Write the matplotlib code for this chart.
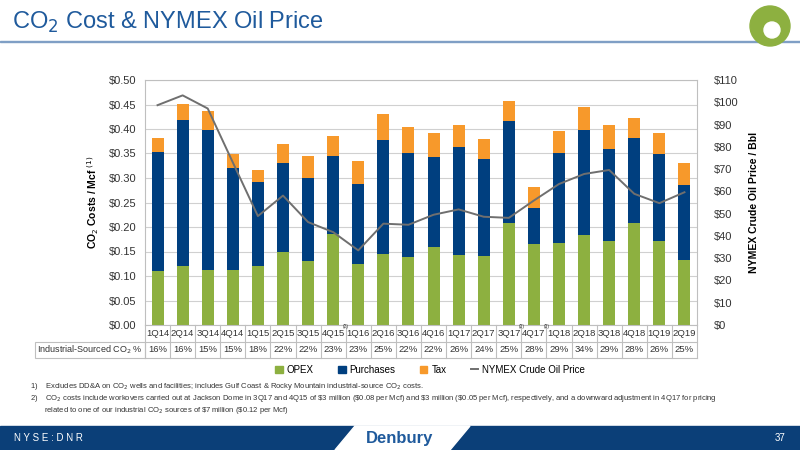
import matplotlib.pyplot as plt
from matplotlib.patches import Rectangle, Ellipse, Polygon
from matplotlib.lines import Line2D

plt.rcParams['font.family'] = ['Liberation Sans', 'DejaVu Sans']

quarters = ['1Q14', '2Q14', '3Q14', '4Q14', '1Q15', '2Q15', '3Q15', '4Q15', '1Q16', '2Q16', '3Q16',
            '4Q16', '1Q17', '2Q17', '3Q17', '4Q17', '1Q18', '2Q18', '3Q18', '4Q18', '1Q19', '2Q19']
opex = [0.110, 0.120, 0.113, 0.113, 0.120, 0.148, 0.131, 0.185, 0.124, 0.144, 0.138,
        0.159, 0.142, 0.140, 0.209, 0.166, 0.167, 0.183, 0.171, 0.209, 0.171, 0.132]
purch_top = [0.354, 0.419, 0.397, 0.320, 0.291, 0.331, 0.299, 0.345, 0.287, 0.377, 0.352,
             0.343, 0.364, 0.339, 0.416, 0.238, 0.352, 0.398, 0.360, 0.381, 0.349, 0.285]
total = [0.381, 0.451, 0.437, 0.350, 0.316, 0.369, 0.344, 0.385, 0.334, 0.430, 0.405,
         0.392, 0.409, 0.380, 0.457, 0.281, 0.395, 0.445, 0.408, 0.423, 0.391, 0.330]
oil = [98.7, 103.1, 97.2, 73.0, 48.9, 58.1, 46.2, 41.7, 33.5, 45.5, 45.0,
       49.5, 51.9, 48.6, 48.1, 55.9, 63.3, 67.8, 69.6, 58.9, 54.7, 59.6]
industrial_pct = ['16%', '16%', '15%', '15%', '18%', '22%', '22%', '23%', '23%', '25%', '22%',
                  '22%', '26%', '24%', '25%', '28%', '29%', '34%', '29%', '28%', '26%', '25%']
flagged = ['4Q15', '3Q17', '4Q17']

purchases = [p - o for p, o in zip(purch_top, opex)]
tax = [t - p for t, p in zip(total, purch_top)]

GREEN, NAVY, ORANGE, LINE = '#8db040', '#003f7f', '#f7992b', '#6f6f6f'
BLUE = '#1f5a9c'

fig = plt.figure(figsize=(8, 4.5), dpi=100)
W, H = 800, 450
ax = fig.add_axes([145 / W, (H - 325) / H, 552 / W, 245 / H])
x = list(range(len(quarters)))
ax.bar(x, opex, 0.48, color=GREEN, zorder=2)
ax.bar(x, purchases, 0.48, bottom=opex, color=NAVY, zorder=2)
ax.bar(x, tax, 0.48, bottom=purch_top, color=ORANGE, zorder=2)
ax.set_xlim(-0.5, len(quarters) - 0.5)
ax.set_ylim(0, 0.5)
ax.set_yticks([i * 0.05 for i in range(11)])
ax.set_yticklabels(['$%.2f' % (i * 0.05) for i in range(11)], fontsize=8, color='#333333')
ax.grid(axis='y', color='#d0d0d0', lw=0.8, zorder=0)
ax.set_xticks([])
for s in ax.spines.values():
    s.set_color('#bfbfbf')
ax.tick_params(length=0, pad=6)
ax.set_ylabel('CO$_2$ Costs / Mcf $^{(1)}$', fontsize=7.5, weight='bold', labelpad=6)

ax2 = ax.twinx()
ax2.plot(x, oil, color=LINE, lw=1.4, zorder=3)
ax2.set_ylim(0, 110)
ax2.set_yticks(range(0, 111, 10))
ax2.set_yticklabels(['$%d' % v for v in range(0, 111, 10)], fontsize=8, color='#333333')
ax2.tick_params(length=0, pad=12)
for s in ax2.spines.values():
    s.set_visible(False)
ax2.set_ylabel('NYMEX Crude Oil Price / Bbl', fontsize=7.5, weight='bold', labelpad=8)

# table below axis
tr = ax.get_xaxis_transform()
r1, r2 = -0.068, -0.136
for i, q in enumerate(quarters):
    ax.text(i, r1 / 2, q, transform=tr, ha='center', va='center', fontsize=6.8, color='#333333')
    ax.text(i, (r1 + r2) / 2, industrial_pct[i], transform=tr, ha='center', va='center', fontsize=6.8, color='#333333')
    if q in flagged:
        ax.text(i + 0.5, -0.008, '(2)', transform=tr, ha='center', va='center', fontsize=3.5, color='#333333')
for i in range(len(quarters) + 1):
    ax.add_line(Line2D([i - 0.5, i - 0.5], [0, r2], transform=tr, color='#bfbfbf', lw=0.8, clip_on=False))
for yy in (r1, r2):
    ax.add_line(Line2D([-0.5, len(quarters) - 0.5], [yy, yy], transform=tr, color='#bfbfbf', lw=0.8, clip_on=False))
fig.patches.append(Rectangle((35 / W, (H - 358) / H), 110 / W, 16.5 / H, transform=fig.transFigure,
                             fill=False, ec='#bfbfbf', lw=0.8))
fig.text(90 / W, (H - 349.5) / H, 'Industrial-Sourced CO$_2$ %', ha='center', va='center', fontsize=6.5, color='#333333')

# legend
handles = [Rectangle((0, 0), 1, 1, color=GREEN), Rectangle((0, 0), 1, 1, color=NAVY),
           Rectangle((0, 0), 1, 1, color=ORANGE), Line2D([], [], color=LINE, lw=1.4)]
fig.legend(handles, ['OPEX', 'Purchases', 'Tax', 'NYMEX Crude Oil Price'], loc='center',
           bbox_to_anchor=(430 / W, (H - 370) / H), ncol=4, frameon=False, fontsize=7,
           handlelength=0.8, handleheight=0.8, handletextpad=0.4, columnspacing=2.5)

# title
fig.text(12 / W, (H - 22) / H, 'CO$_2$ Cost & NYMEX Oil Price', fontsize=17, color=BLUE, va='center')
fig.patches.append(Rectangle((0, (H - 42) / H), 1, 1.5 / H, transform=fig.transFigure, color='#7f9fc5'))
fig.patches.append(Ellipse((770 / W, (H - 26) / H), 40 / W, 40 / H, transform=fig.transFigure, color='#8db040'))
fig.patches.append(Ellipse((772 / W, (H - 30) / H), 16 / W, 16 / H, transform=fig.transFigure, color='white'))

# footnotes
fig.text(30 / W, (H - 387) / H, r'1)    Excludes DD&A on CO$_2$ wells and facilities; includes Gulf Coast & Rocky Mountain industrial-source CO$_2$ costs.',
         fontsize=5.5, color='#333333', va='center')
fig.text(30 / W, (H - 399) / H, r'2)    CO$_2$ costs include workovers carried out at Jackson Dome in 3Q17 and 4Q15 of \$3 million (\$0.08 per Mcf) and \$3 million (\$0.05 per Mcf), respectively, and a downward adjustment in 4Q17 for pricing',
         fontsize=5.5, color='#333333', va='center')
fig.text(44 / W, (H - 410) / H, r'related to one of our industrial CO$_2$ sources of \$7 million (\$0.12 per Mcf)',
         fontsize=5.5, color='#333333', va='center')

# footer band
fig.patches.append(Rectangle((0, 0), 1, 24 / H, transform=fig.transFigure, color='#0b3f78'))
fig.patches.append(Polygon([(335 / W, 0), (355 / W, 24 / H), (470 / W, 24 / H), (450 / W, 0)],
                           transform=fig.transFigure, color='white'))
fig.text(14 / W, 12 / H, 'N Y S E : D N R', fontsize=7, color='white', va='center')
fig.text(400 / W, 11 / H, 'Denbury', fontsize=12, color=BLUE, weight='bold', ha='center', va='center')
fig.text(785 / W, 12 / H, '37', fontsize=7, color='white', va='center', ha='right')

fig.savefig('out.png', dpi=100)
